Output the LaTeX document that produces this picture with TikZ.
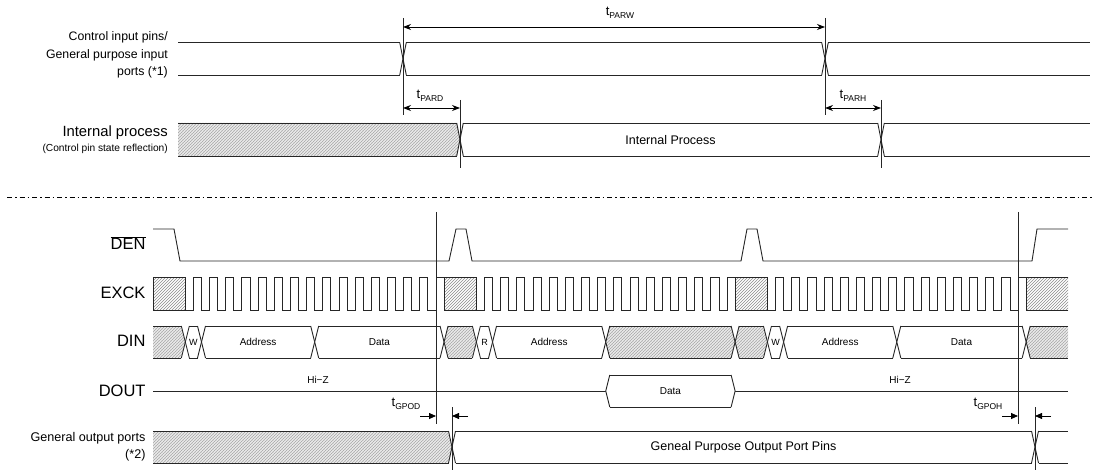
\documentclass[tikz,border=0pt]{standalone}
\usepackage{fontspec}
\setmainfont{Liberation Sans}
\usetikzlibrary{arrows.meta,patterns}
\newcommand\fs[1]{\fontsize{#1}{#1}\selectfont}
\newcommand\tlab[1]{{\fs{13}t}\raisebox{-3pt}{\fs{8.5}#1}}
\def\pp{16.17}
\tikzset{
 sig/.style={line width=0.9pt, draw=black!85},
 guide/.style={line width=0.8pt, draw=black!85},
 dim/.style={line width=0.8pt, draw=black, {Stealth[length=8pt,width=6pt]}-{Stealth[length=8pt,width=6pt]}},
 dimr/.style={line width=0.8pt, draw=black, -{Triangle[length=7pt,width=6pt]}},
 hatchA/.style={preaction={fill=white}, pattern=north east lines, pattern color=black!45},
 hatchB/.style={preaction={fill=gray!14}, pattern=crosshatch dots, pattern color=black!35, postaction={pattern=north east lines, pattern color=black!32}},
 blank/.style={fill=white},
 rowlab/.style={anchor=base east, inner sep=0pt},
 small/.style={inner sep=0pt, font=\fs{10}},
}
\newcommand\tdseg[7]{%
 \pgfmathsetmacro\tdm{(#3+#4)/2}%
 \path[#5] (#1,\tdm) -- ({#1+#6},#3) -- ({#2-#7},#3) -- (#2,\tdm) -- ({#2-#7},#4) -- ({#1+#6},#4) -- cycle;
 \draw[sig] ({#1+#6},#3) -- ({#2-#7},#3) ({#1+#6},#4) -- ({#2-#7},#4);
 \ifdim #6pt>0pt \draw[sig] ({#1+#6},#3) -- (#1,\tdm) -- ({#1+#6},#4);\fi
 \ifdim #7pt>0pt \draw[sig] ({#2-#7},#3) -- (#2,\tdm) -- ({#2-#7},#4);\fi
}
\begin{document}
\begin{tikzpicture}[x=1pt,y=-1pt]
\useasboundingbox (0,0) rectangle (1099,470);

% ---------- top section ----------
\node[rowlab, font=\fs{12.3}] (lcip1) at (168,40.7) {Control input pins/};
\node[rowlab, font=\fs{12.3}] (lcip2) at (168,58.3) {General purpose input};
\node[rowlab, font=\fs{12.3}] (lcip3) at (168,75.5) {ports (*1)};
\node[rowlab, font=\fs{14.8}] (lip1) at (168,136.7) {Internal process};
\node[rowlab, font=\fs{10.2}] (lip2) at (168,151.7) {(Control pin state reflection)};

\tdseg{178}{403}{42.5}{75}{blank}{0}{3.3}
\tdseg{403}{825}{42.5}{75}{blank}{3.3}{3.3}
\tdseg{825}{1090}{42.5}{75}{blank}{3.3}{0}

\tdseg{178}{460}{123}{156}{hatchB}{0}{3.3}
\tdseg{460}{881}{123}{156}{blank}{3.3}{3.3}
\tdseg{881}{1090}{123}{156}{blank}{3.3}{0}
\node[inner sep=0pt, font=\fs{12.5}] (tip) at (670.5,140) {Internal Process};

\coordinate (g1t) at (403,18);  \coordinate (g1b) at (403,115);
\coordinate (g2t) at (825,18);  \coordinate (g2b) at (825,115);
\coordinate (g3t) at (460,100); \coordinate (g3b) at (460,168);
\coordinate (g4t) at (881,100); \coordinate (g4b) at (881,168);
\draw[guide] (g1t) -- (g1b) (g2t) -- (g2b) (g3t) -- (g3b) (g4t) -- (g4b);

\coordinate (parw1) at (403,27);  \coordinate (parw2) at (825,27);
\coordinate (pard1) at (403,108); \coordinate (pard2) at (460,108);
\coordinate (parh1) at (825,108); \coordinate (parh2) at (881,108);
\draw[dim] (parw1) -- (parw2);
\draw[dim] (pard1) -- (pard2);
\draw[dim] (parh1) -- (parh2);
\node[inner sep=0pt] (tparw) at (620,13) {\tlab{PARW}};
\node[inner sep=0pt] (tpard) at (430,96) {\tlab{PARD}};
\node[inner sep=0pt] (tparh) at (853,96) {\tlab{PARH}};

% ---------- separator ----------
\coordinate (sepL) at (7,197); \coordinate (sepR) at (1092,197);
\draw[line width=0.8pt, dash pattern=on 5pt off 3pt on 1.5pt off 3pt] (sepL) -- (sepR);

% ---------- bottom section labels ----------
\node[rowlab, font=\fs{16.5}] (lden) at (145.7,250) {$\overline{\mbox{DEN}}$};
\node[rowlab, font=\fs{16.5}] (lexck) at (145.7,298.3) {EXCK};
\node[rowlab, font=\fs{16.5}] (ldin) at (145.7,346.7) {DIN};
\node[rowlab, font=\fs{16.5}] (ldout) at (145.7,396) {DOUT};
\node[rowlab, font=\fs{12.6}] (lgo1) at (145.7,441.7) {General output ports};
\node[rowlab, font=\fs{12.6}] (lgo2) at (145.7,458.3) {(*2)};

% DEN
\draw[sig] (153,229) -- (174,229) -- (180,261) -- (449,261) -- (456,229) -- (466,229) -- (472,261)
  -- (741,261) -- (747,229) -- (757,229) -- (763,261) -- (1032,261) -- (1037,229) -- (1068,229);

% EXCK
\foreach \b in {153,444.06,735.12}{
  \path[hatchA] (\b,277) rectangle ({\b+2*\pp},310);
  \draw[sig] (\b,277) rectangle ({\b+2*\pp},310);
  \draw[sig] ({\b+2*\pp},310)
    \foreach \k in {0,...,14}{ -- ({\b+(2.5+\k)*\pp},310) -- ({\b+(2.5+\k)*\pp},277) -- ({\b+(3+\k)*\pp},277) -- ({\b+(3+\k)*\pp},310)}
    -- ({\b+17.5*\pp},310) -- ({\b+17.5*\pp},277) -- ({\b+18*\pp},277);
}
\path[hatchA] (1026.18,277) rectangle (1068,310);
\draw[sig] (1068,277) -- (1026.18,277) -- (1026.18,310) -- (1068,310);

% DIN
\tdseg{153}{185.34}{326}{358}{hatchB}{0}{4}
\tdseg{185.34}{201.51}{326}{358}{blank}{4}{4}
\tdseg{201.51}{314.70}{326}{358}{blank}{4}{4}
\tdseg{314.70}{444.06}{326}{358}{blank}{4}{4}
\tdseg{444.06}{476.40}{326}{358}{hatchB}{4}{4}
\tdseg{476.40}{492.57}{326}{358}{blank}{4}{4}
\tdseg{492.57}{605.76}{326}{358}{blank}{4}{4}
\tdseg{605.76}{735.12}{326}{358}{hatchB}{4}{4}
\tdseg{735.12}{767.46}{326}{358}{hatchB}{4}{4}
\tdseg{767.46}{783.63}{326}{358}{blank}{4}{4}
\tdseg{783.63}{896.82}{326}{358}{blank}{4}{4}
\tdseg{896.82}{1026.18}{326}{358}{blank}{4}{4}
\tdseg{1026.18}{1068}{326}{358}{hatchB}{4}{0}
\node[small, font=\fs{9}] (dw1) at (193.4,342) {W};
\node[small] (da1) at (258.1,342) {Address};
\node[small] (dd1) at (379.4,342) {Data};
\node[small, font=\fs{9}] (dr2) at (484.5,342) {R};
\node[small] (da2) at (549.2,342) {Address};
\node[small, font=\fs{9}] (dw3) at (775.5,342) {W};
\node[small] (da3) at (840.2,342) {Address};
\node[small] (dd3) at (961.5,342) {Data};

% DOUT
\coordinate (do0) at (153,391); \coordinate (do1) at (605.76,391);
\coordinate (do2) at (735.12,391); \coordinate (do3) at (1068,391);
\draw[sig] (do0) -- (do1) (do2) -- (do3);
\tdseg{605.76}{735.12}{375}{407}{blank}{4}{4}
\node[small] (ddo) at (670.4,391) {Data};
\node[small] (hz1) at (318,380) {Hi−Z};
\node[small] (hz2) at (900,380) {Hi−Z};

% General output ports
\tdseg{153}{452}{431}{463}{hatchB}{0}{3.5}
\tdseg{452}{1035}{431}{463}{blank}{3.5}{3.5}
\tdseg{1035}{1068}{431}{463}{blank}{3.5}{0}
\node[inner sep=0pt, font=\fs{12.5}] (gpo) at (743.5,447) {Geneal Purpose Output Port Pins};

% guides bottom
\coordinate (h1t) at (436,212);  \coordinate (h1b) at (436,424);
\coordinate (h2t) at (1018,212); \coordinate (h2b) at (1018,424);
\coordinate (h3t) at (452,407);  \coordinate (h3b) at (452,470);
\coordinate (h4t) at (1035,407); \coordinate (h4b) at (1035,470);
\draw[guide] (h1t) -- (h1b) (h2t) -- (h2b) (h3t) -- (h3b) (h4t) -- (h4b);

\coordinate (gpod1) at (420,416); \coordinate (gpod2) at (436,416);
\coordinate (gpod3) at (468,416); \coordinate (gpod4) at (452,416);
\coordinate (gpoh1) at (1002,416); \coordinate (gpoh2) at (1018,416);
\coordinate (gpoh3) at (1051,416); \coordinate (gpoh4) at (1035,416);
\draw[dimr] (gpod1) -- (gpod2);
\draw[dimr] (gpod3) -- (gpod4);
\draw[dimr] (gpoh1) -- (gpoh2);
\draw[dimr] (gpoh3) -- (gpoh4);
\node[inner sep=0pt] (tgpod) at (406,404) {\tlab{GPOD}};
\node[inner sep=0pt] (tgpoh) at (988,404) {\tlab{GPOH}};
\end{tikzpicture}
\end{document}
